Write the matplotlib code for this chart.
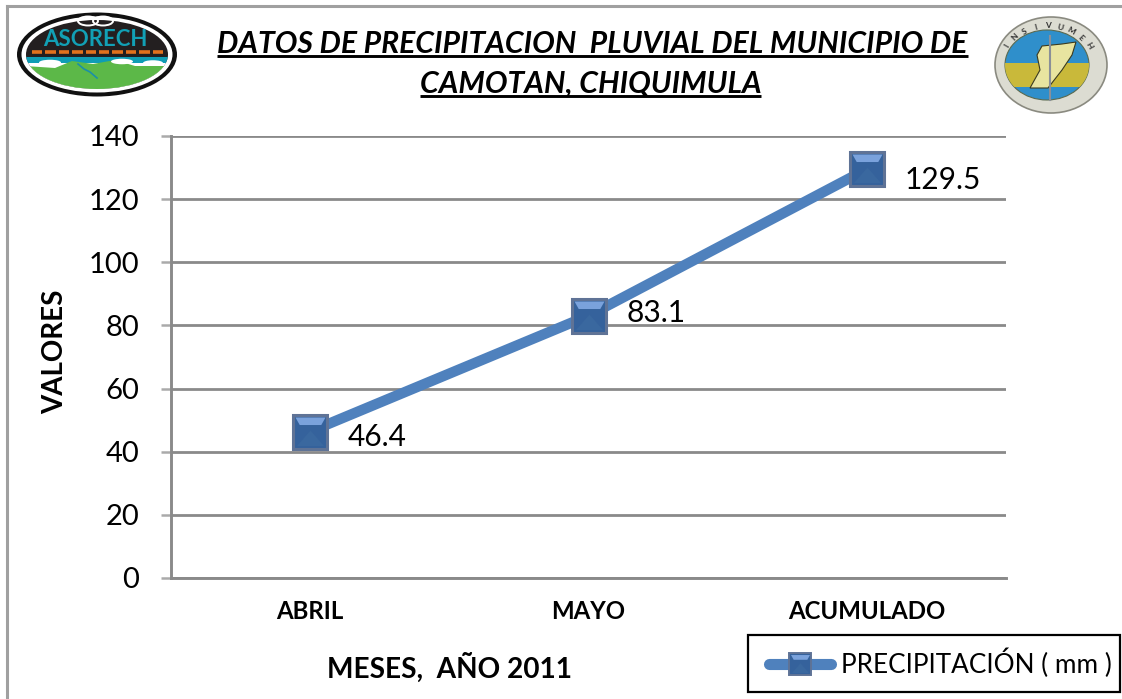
import matplotlib
matplotlib.use("Agg")
import matplotlib.pyplot as plt
import numpy as np
from matplotlib.lines import Line2D
from matplotlib.legend_handler import HandlerTuple
from matplotlib.patches import Ellipse, Polygon, Rectangle
from matplotlib.path import Path

plt.rcParams['font.family'] = ['Lato', 'DejaVu Sans']

# data
months = ["ABRIL", "MAYO", "ACUMULADO"]
precip = [46.4, 83.1, 129.5]
y_ticks = [0, 20, 40, 60, 80, 100, 120, 140]
title_lines = ["DATOS DE PRECIPITACION  PLUVIAL DEL MUNICIPIO DE", "CAMOTAN, CHIQUIMULA"]

W, H = 1122, 699
LINE_BLUE = "#4f81bd"
GRID = "#8a8a8a"

# bevel pieces of the square marker
top_bevel = Path([(-1, 1), (1, 1), (0.72, 0.5), (-0.72, 0.5), (-1, 1)], closed=True)
centre_x = Path([(-0.7, -0.7), (0.7, -0.7), (0, 0.1), (-0.7, -0.7)], closed=True)


def marker_layers(size, **kw):
    """The bevelled square, as a list of overlaid style dicts."""
    return [
        dict(marker='s', ms=size, mfc="#35629c", mec="#5f7396", mew=size * 0.09, **kw),
        dict(marker=centre_x, ms=size * 0.8, mfc="#3a689f", mew=0, **kw),
        dict(marker=top_bevel, ms=size * 0.88, mfc="#7aa2dc", mew=0, **kw),
    ]


fig = plt.figure(figsize=(W / 100, H / 100), dpi=100, facecolor="white")
ax = fig.add_axes([171 / W, 1 - 578 / H, 835 / W, 442 / H])

x = np.arange(len(months))
ax.plot(x, precip, color=LINE_BLUE, lw=7.5, solid_capstyle='round', zorder=3)
for style in marker_layers(24.5):
    ax.plot(x, precip, ls='none', zorder=4, **style)

# labels sit beside each marker, offsets in points
label_offsets = [(27, -4), (27, 2), (27, -8)]
for xi, val, off in zip(x, precip, label_offsets):
    ax.annotate(f"{val}", (xi, val), xytext=off, textcoords='offset points',
                fontsize=21.5, color="black", va='center', ha='left', zorder=5)

ax.set_xlim(-0.5, 2.5)
ax.set_ylim(0, 140)
ax.set_yticks(y_ticks)
ax.set_xticks(x)
ax.set_xticklabels(months, fontweight='bold', fontsize=17.3)
ax.tick_params(axis='x', which='major', length=0, pad=16)
ax.tick_params(axis='y', labelsize=21, length=7.5, width=1.8, color="#aaaaaa", pad=15.5)
ax.grid(axis='y', color=GRID, lw=2)
ax.set_axisbelow(True)
for side in ['top', 'right']:
    ax.spines[side].set_visible(False)
for side in ['left', 'bottom']:
    ax.spines[side].set_color(GRID)
    ax.spines[side].set_linewidth(2.1)

# overlay in picture pixels for the frame, logos and title
ov = fig.add_axes([0, 0, 1, 1], zorder=-1)
ov.set_xlim(0, W)
ov.set_ylim(H, 0)
ov.axis('off')
top = fig.add_axes([0, 0, 1, 1], zorder=5)
top.set_xlim(0, W)
top.set_ylim(H, 0)
top.axis('off')
top.patch.set_alpha(0)

ov.plot([7, 7], [H, 5.5], color="#a0a0a0", lw=2.2)
ov.plot([7, W], [5.5, 5.5], color="#a0a0a0", lw=2.2)

fig.text(449 / W, 1 - 668 / H, "MESES,  AÑO 2011", fontweight='bold', fontsize=20.2,
         ha='center', va='center')
fig.text(55 / W, 1 - 352 / H, "VALORES", fontweight='bold', fontsize=20, rotation=90,
         ha='center', va='center')

# title, underlined by hand because text has no underline option
title_base = [53, 93]
title_x = [592.5, 590.5]
fig.canvas.draw()
renderer = fig.canvas.get_renderer()
for line, tx, ty in zip(title_lines, title_x, title_base):
    t = top.text(tx, ty, line, fontsize=21.7, fontweight='bold',
                 fontstyle='italic', ha='center', va='baseline')
    bb = t.get_window_extent(renderer)
    top.plot([bb.x0, bb.x1], [ty + 3, ty + 3], color="black", lw=2.1, solid_capstyle='butt')

# ASORECH logo
cx, cy = 97, 54.5
top.add_patch(Ellipse((cx, cy), 160, 84, fc="#111111", ec="none"))
top.add_patch(Ellipse((cx, cy), 151, 76, fc="white", ec="none"))
inner = Ellipse((cx, cy), 142, 69, fc="#231f20", ec="none")
top.add_patch(inner)
band = Rectangle((20, 57), 160, 6, fc="#0f9db5", ec="none")
top.add_patch(band)
sky = Rectangle((20, 63), 160, 32, fc="white", ec="none")
top.add_patch(sky)
hill = Polygon([(25, 66), (55, 68), (72, 61), (93, 64), (115, 60), (135, 66), (170, 66),
                (170, 95), (25, 95)], fc="#5cb848", ec="none")
top.add_patch(hill)
river = top.plot([78, 84, 90, 97], [64, 69, 72, 78], color="#1b8fa8", lw=1.2)[0]
for art in [band, sky, hill, river]:
    art.set_clip_path(inner)
for cloud_x, cloud_y, cloud_w in [(50, 62.5, 22), (122, 61.5, 22), (153, 63, 20)]:
    top.add_patch(Ellipse((cloud_x, cloud_y), cloud_w, 5.5, fc="white", ec="none"))
for dx in np.arange(32, 162, 13.4):
    top.plot([dx, dx + 10.5], [52, 52], color="#e2711d", lw=2.6, solid_capstyle='butt')
top.text(cx - 2, 39.5, "ASORECH", color="#12a0b5", fontsize=16, fontweight='bold',
         ha='center', va='center')
top.add_patch(Ellipse((88, 21), 20, 9, fc="none", ec="white", lw=1.4))
top.add_patch(Ellipse((103, 21), 20, 9, fc="none", ec="white", lw=1.4))

# INSIVUMEH seal
sx, sy = 1051, 65
top.add_patch(Ellipse((sx, sy), 112, 96, fc="#dcdcd2", ec="#8a8a80", lw=1.2))
disc = Ellipse((1047, sy), 84, 70, fc="#2f8fcb", ec="#5a6a50", lw=0.8)
top.add_patch(disc)
strip = Rectangle((1005, 63), 84, 24, fc="#c9b93a", ec="none")
top.add_patch(strip)
strip.set_clip_path(disc)
top.add_patch(Polygon([(1037, 55), (1042, 46), (1062, 44), (1076, 42), (1072, 55), (1062, 70),
                       (1048, 88), (1030, 88), (1040, 70)],
                      fc="#e8e4a0", ec="#3a3a20", lw=0.8))
top.plot([1050, 1050], [36, 100], color="#8a8f98", lw=1.5)
for i, ch in enumerate("INSIVUMEH"):
    ang = np.radians(90 + (4 - i) * 15)
    top.text(1048 + 47 * np.cos(ang), sy - 39 * np.sin(ang), ch, fontsize=6, fontweight='bold',
             color="#333333", rotation=np.degrees(ang) - 90, ha='center', va='center')

# legend, boxed by hand so the padding can differ per side
top.add_patch(Rectangle((748, 635), 372, 57, fc="none", ec="black", lw=1.6))
base = Line2D([], [], color=LINE_BLUE, lw=8, solid_capstyle='round')
layers = [Line2D([], [], ls='none', **s) for s in marker_layers(15.5)]
fig.legend([tuple([base] + layers)], ["PRECIPITACIÓN ( mm )"],
           handler_map={tuple: HandlerTuple(ndivide=1, pad=0)},
           loc='center left', bbox_to_anchor=(769 / W, 1 - 663 / H),
           fontsize=18.8, frameon=False, borderpad=0, borderaxespad=0,
           handlelength=2.37, handletextpad=0.38)

fig.savefig("out.png", dpi=100)
